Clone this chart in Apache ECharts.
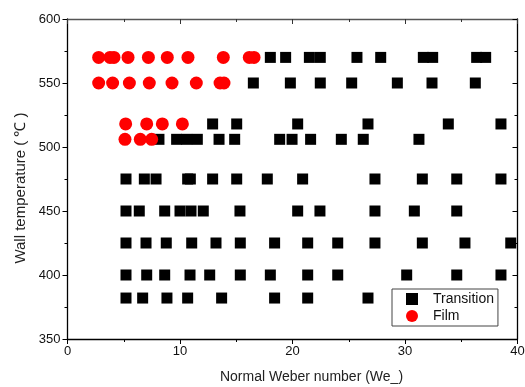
<!DOCTYPE html>
<html>
<head>
<meta charset="utf-8">
<script src="https://cdn.jsdelivr.net/npm/echarts@6/dist/echarts.min.js"></script>
<style>html,body{margin:0;padding:0;background:#fff}#c{width:525px;height:387px}</style>
</head>
<body>
<div id="c"></div>
<script>
// Wall temperature levels (°C)
var temperatures = [570, 550, 518, 506, 475, 450, 425, 400, 382];
// Film boiling points: Weber numbers per temperature level
var film570 = [2.77, 3.78, 4.13, 5.38, 7.19, 8.87, 10.71, 13.85, 16.16, 16.58];
var film550 = [2.77, 4.01, 5.5, 7.27, 9.29, 11.45, 13.56, 13.91];
var film518 = [5.17, 7.04, 8.43, 10.21];
var film506 = [5.11, 6.47, 7.48];
// Transition boiling points
var trans570 = [18.03, 19.39, 21.5, 22.47, 25.73, 27.84, 31.63, 32.46, 36.37, 37.17];
var trans550 = [16.52, 19.81, 22.47, 25.26, 29.32, 32.4, 36.25];
var trans518 = [12.9, 15.04, 20.46, 26.71, 33.85, 38.53];
var trans506 = [8.13, 9.7, 10.6, 11.54, 13.47, 14.86, 18.86, 19.96, 21.61, 24.34, 26.29, 31.24];
var trans475 = [5.2, 6.83, 7.87, 10.68, 10.92, 12.9, 15.04, 17.76, 20.9, 27.33, 31.54, 34.6, 38.53];
var trans450 = [5.2, 6.38, 8.64, 10.0, 10.98, 12.07, 15.33, 20.46, 22.44, 27.33, 30.83, 34.6];
var trans425 = [5.2, 6.98, 8.78, 11.04, 13.2, 15.36, 18.41, 21.35, 24.02, 27.33, 31.54, 35.33, 39.4];
var trans400 = [5.2, 7.04, 8.64, 10.89, 12.64, 15.36, 18.03, 21.35, 24.02, 30.15, 34.6, 38.53];
var trans382 = [5.2, 6.68, 8.84, 10.68, 13.7, 18.41, 21.35, 26.71];
var xTicks = [0, 10, 20, 30, 40];
var yTicks = [350, 400, 450, 500, 550, 600];

var filmRows = [film570, film550, film518, film506];
var transRows = [trans570, trans550, trans518, trans506, trans475, trans450, trans425, trans400, trans382];
function pts(rows) {
  var out = [];
  rows.forEach(function (r, i) { r.forEach(function (w) { out.push([w, temperatures[i]]); }); });
  return out;
}

var font = 'Liberation Sans, Arial, sans-serif';
var axisCommon = {
  axisLine: { show: true, onZero: false, lineStyle: { color: '#000', width: 1.3 } },
  splitLine: { show: false },
  minorTick: { show: true, splitNumber: 2, length: 3, lineStyle: { color: '#000' } },
  axisTick: { show: true, length: 5, lineStyle: { color: '#000' } }
};
var chart = echarts.init(document.getElementById('c'), null, { renderer: 'canvas' });
chart.setOption({
  animation: false,
  grid: { left: 67.5, right: 7.5, top: 19, bottom: 48, containLabel: false, outerBoundsMode: 'none' },
  xAxis: [
    Object.assign({}, axisCommon, {
      type: 'value', min: xTicks[0], max: xTicks[xTicks.length - 1], interval: 10, position: 'bottom',
      name: 'Normal Weber number (We_)', nameLocation: 'middle', nameGap: 31,
      nameTextStyle: { fontFamily: font, fontSize: 14, color: '#222', padding: [0, 0, 0, 38] },
      axisLabel: { fontFamily: font, fontSize: 13, color: '#111', margin: 6 }
    }),
    Object.assign({}, axisCommon, {
      type: 'value', min: 0, max: 40, interval: 10, position: 'top',
      axisLine: { show: true, onZero: false, lineStyle: { color: '#555', width: 1.3 } },
      axisTick: { show: true, inside: true, length: 5, lineStyle: { color: '#333' } },
      minorTick: { show: true, splitNumber: 2, length: 3, lineStyle: { color: '#333' } },
      axisLabel: { show: false }
    })
  ],
  yAxis: [
    Object.assign({}, axisCommon, {
      type: 'value', min: yTicks[0], max: yTicks[yTicks.length - 1], interval: 50, position: 'left',
      name: 'Wall temperature ( \u2103 )', nameLocation: 'middle', nameGap: 33,
      nameTextStyle: { fontFamily: font, fontSize: 15, color: '#222', padding: [0, 18, 0, 0] },
      axisLabel: { fontFamily: font, fontSize: 13, color: '#111', margin: 7 }
    }),
    Object.assign({}, axisCommon, {
      type: 'value', min: 350, max: 600, interval: 50, position: 'right',
      axisTick: { show: true, inside: true, length: 5, lineStyle: { color: '#000' } },
      minorTick: { show: true, splitNumber: 2, length: 3, lineStyle: { color: '#000' } },
      axisLabel: { show: false }
    })
  ],
  legend: {
    orient: 'vertical', left: 392, top: 289, padding: [3, 4, 3, 14], itemGap: 3,
    borderColor: '#444', borderWidth: 1, itemWidth: 12, itemHeight: 12,
    textStyle: { fontFamily: font, fontSize: 14, color: '#111', padding: [0, 0, 0, 10] },
    data: [{ name: 'Transition', icon: 'rect' }, { name: 'Film', icon: 'circle' }]
  },
  series: [
    { name: 'Transition', type: 'scatter', symbol: 'rect', symbolSize: 11,
      itemStyle: { color: '#000', opacity: 1 }, data: pts(transRows) },
    { name: 'Film', type: 'scatter', symbol: 'circle', symbolSize: 13,
      itemStyle: { color: '#ff0000', opacity: 1 }, data: pts(filmRows) }
  ]
});
</script>
</body>
</html>
